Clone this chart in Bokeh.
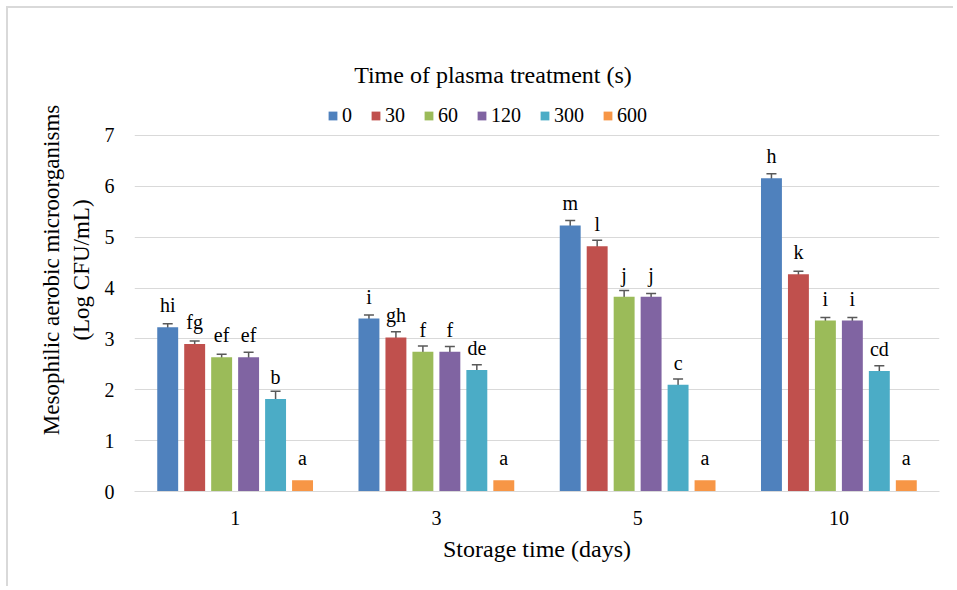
from bokeh.plotting import figure
from bokeh.models import (ColumnDataSource, FactorRange, Range1d, Whisker, TeeHead,
                          Legend, LegendItem, FixedTicker, Label)
from bokeh.transform import dodge
from bokeh.core.properties import value
from bokeh.embed import file_html
from bokeh.resources import INLINE

# ---------------- data ----------------
days = ["1", "3", "5", "10"]
times = ["0", "30", "60", "120", "300", "600"]

mean_0 = [3.23, 3.40, 5.23, 6.16]
mean_30 = [2.90, 3.03, 4.82, 4.27]
mean_60 = [2.64, 2.75, 3.83, 3.36]
mean_120 = [2.64, 2.75, 3.83, 3.36]
mean_300 = [1.82, 2.39, 2.10, 2.37]
mean_600 = [0.22, 0.22, 0.22, 0.22]

err_0 = [0.07, 0.07, 0.10, 0.085]
err_30 = [0.06, 0.11, 0.12, 0.06]
err_60 = [0.06, 0.11, 0.12, 0.06]
err_120 = [0.10, 0.10, 0.065, 0.06]
err_300 = [0.15, 0.10, 0.11, 0.10]
err_600 = [0.0, 0.0, 0.0, 0.0]

letters_0 = ["hi", "i", "m", "h"]
letters_30 = ["fg", "gh", "l", "k"]
letters_60 = ["ef", "f", "j", "i"]
letters_120 = ["ef", "f", "j", "i"]
letters_300 = ["b", "de", "c", "cd"]
letters_600 = ["a", "a", "a", "a"]

y_ticks = [0, 1, 2, 3, 4, 5, 6, 7]

means = [mean_0, mean_30, mean_60, mean_120, mean_300, mean_600]
errs = [err_0, err_30, err_60, err_120, err_300, err_600]
letters = [letters_0, letters_30, letters_60, letters_120, letters_300, letters_600]
colors = ["#4F81BD", "#C0504D", "#9BBB59", "#8064A2", "#4BACC6", "#F79646"]

FONT = "Liberation Serif"
TXT = "#000000"
GRID = "#D9D9D9"

p = figure(width=947, height=580, x_range=FactorRange(factors=days, range_padding=0),
           y_range=Range1d(0, 8.71), output_backend="svg", toolbar_location=None,
           min_border_left=126, min_border_right=16, min_border_top=40, min_border_bottom=97,
           styles={"margin-left": "8px", "margin-top": "8px",
                   "box-shadow": "-2px -2px 0 0 #D9D9D9"})
p.outline_line_color = None
p.background_fill_color = "white"
p.border_fill_color = "white"

pitch = 0.134
bar_w = 0.104
items = []
for i, (t, m, e, lab, c) in enumerate(zip(times, means, errs, letters, colors)):
    off = (i - 2.5) * pitch
    src = ColumnDataSource(dict(day=days, val=m,
                                up=[a + b for a, b in zip(m, e)],
                                lo=[a - b for a, b in zip(m, e)],
                                lab=lab))
    r = p.vbar(x=dodge("day", off, range=p.x_range), top="val", width=bar_w, bottom=0,
               source=src, fill_color=c, line_color=None)
    items.append(LegendItem(label=t, renderers=[r]))
    if any(v > 0 for v in e):
        w = Whisker(source=src, base=dodge("day", off, range=p.x_range), upper="up", lower="lo",
                    line_color="#595959", line_width=1.5,
                    upper_head=TeeHead(size=10, line_color="#595959", line_width=1.5),
                    lower_head=TeeHead(size=10, line_color="#595959", line_width=1.5))
        p.add_layout(w)
    p.text(x=dodge("day", off, range=p.x_range), y="val", text="lab", source=src,
           text_align="center", text_baseline="alphabetic", y_offset=-22,
           text_font=value(FONT), text_font_size="20px", text_color=TXT)

legend = Legend(items=items, orientation="horizontal", location=(193, 364),
                label_text_font=FONT, label_text_font_size="20px", label_text_color=TXT,
                glyph_width=11, glyph_height=11, label_standoff=4, spacing=18,
                padding=0, margin=0, border_line_color=None, background_fill_alpha=0,
                label_height=20, label_width=5)
p.add_layout(legend, "center")

title = Label(x=2.0, y=8.18, x_offset=-44, text="Time of plasma treatment (s)",
              text_font=FONT, text_font_size="24px", text_color=TXT,
              text_align="center", text_baseline="alphabetic")
p.add_layout(title)

# axes
p.xaxis.axis_label = "Storage time (days)"
p.yaxis.axis_label = "Mesophilic aerobic microorganisms\n(Log CFU/mL)"
for ax in (p.xaxis[0], p.yaxis[0]):
    ax.axis_label_text_font = FONT
    ax.axis_label_text_font_style = "normal"
    ax.axis_label_text_color = TXT
    ax.major_label_text_font = FONT
    ax.major_label_text_font_size = "20px"
    ax.major_label_text_color = TXT
    ax.major_tick_line_color = None
    ax.minor_tick_line_color = None
    ax.major_tick_out = 0
    ax.major_tick_in = 0
p.xaxis.axis_label_text_font_size = "24px"
p.yaxis.axis_label_text_font_size = "23px"

p.xaxis.axis_line_color = GRID
p.xaxis.major_label_standoff = 19
p.xaxis.axis_label_standoff = 8
p.yaxis.axis_line_color = None
p.yaxis.ticker = FixedTicker(ticks=y_ticks)
p.yaxis.major_label_standoff = 20
p.yaxis.axis_label_standoff = 8

p.xgrid.grid_line_color = None
p.ygrid.grid_line_color = GRID
p.ygrid.grid_line_width = 1
p.ygrid.ticker = FixedTicker(ticks=y_ticks)

open("out.html", "w").write(file_html(p, INLINE))
